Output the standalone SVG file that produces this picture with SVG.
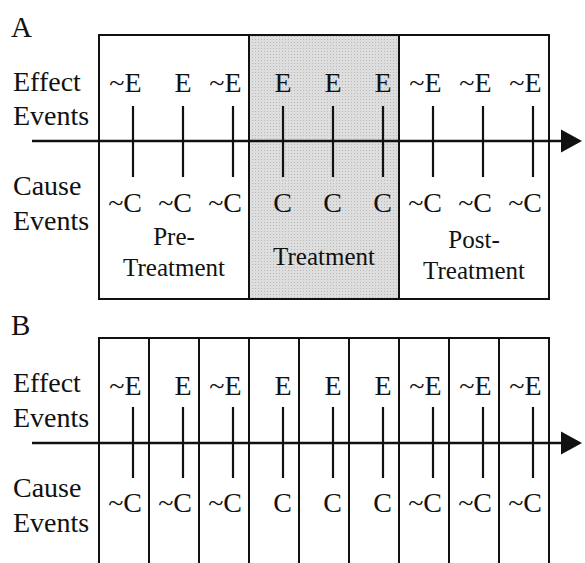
<svg xmlns="http://www.w3.org/2000/svg" width="585" height="563" viewBox="0 0 585 563">
<defs>
<style>
text{font-family:"Liberation Serif","Times New Roman",serif;fill:#111;}
.lbl{font-size:28px;}
.ev{font-size:28px;text-anchor:end;}
.cap{font-size:25px;text-anchor:middle;}
.big{font-size:29px;}
.box{fill:none;stroke:#111;stroke-width:2;}
.tick{stroke:#111;stroke-width:2.2;}
.axis{stroke:#111;stroke-width:2.5;}
</style>
<pattern id="dots" width="3" height="3" patternUnits="userSpaceOnUse">
<rect width="3" height="3" fill="#dedede"/>
<rect width="1" height="1" fill="#b8b8b8"/>
</pattern>
</defs>
<rect width="585" height="563" fill="#fff"/>

<g id="panelA">
<text class="big" x="11" y="37">A</text>
<rect x="249" y="35" width="150" height="264" fill="url(#dots)"/>
<rect class="box" x="99" y="35" width="450" height="264"/>
<line class="box" x1="249" y1="35" x2="249" y2="299"/>
<line class="box" x1="399" y1="35" x2="399" y2="299"/>
<text class="lbl" x="13" y="91">Effect</text>
<text class="lbl" x="13" y="125">Events</text>
<text class="lbl" x="13" y="195">Cause</text>
<text class="lbl" x="13" y="230">Events</text>
<text class="cap" x="174" y="245">Pre-</text>
<text class="cap" x="174" y="276">Treatment</text>
<text class="cap" x="324" y="265">Treatment</text>
<text class="cap" x="474" y="248">Post-</text>
<text class="cap" x="474" y="279">Treatment</text>
</g>

<g id="eventsA">
<g class="tick">
<line x1="133" y1="106" x2="133" y2="177"/><line x1="183" y1="106" x2="183" y2="177"/><line x1="233" y1="106" x2="233" y2="177"/>
<line x1="283" y1="106" x2="283" y2="177"/><line x1="333" y1="106" x2="333" y2="177"/><line x1="383" y1="106" x2="383" y2="177"/>
<line x1="433" y1="106" x2="433" y2="177"/><line x1="483" y1="106" x2="483" y2="177"/><line x1="533" y1="106" x2="533" y2="177"/>
</g>
<text class="ev" x="141.5" y="92">~E</text><text class="ev" x="191.5" y="92">E</text><text class="ev" x="241.5" y="92">~E</text>
<text class="ev" x="291.5" y="92">E</text><text class="ev" x="341.5" y="92">E</text><text class="ev" x="391.5" y="92">E</text>
<text class="ev" x="441.5" y="92">~E</text><text class="ev" x="491.5" y="92">~E</text><text class="ev" x="541.5" y="92">~E</text>
<text class="ev" x="142" y="212">~C</text><text class="ev" x="192" y="212">~C</text><text class="ev" x="242" y="212">~C</text>
<text class="ev" x="292" y="212">C</text><text class="ev" x="342" y="212">C</text><text class="ev" x="392" y="212">C</text>
<text class="ev" x="442" y="212">~C</text><text class="ev" x="492" y="212">~C</text><text class="ev" x="542" y="212">~C</text>
</g>

<g id="panelB">
<text class="big" x="11" y="335">B</text>
<path class="box" d="M99,563V338H549V563"/>
<g class="box">
<line x1="149" y1="338" x2="149" y2="563"/><line x1="199" y1="338" x2="199" y2="563"/><line x1="249" y1="338" x2="249" y2="563"/>
<line x1="299" y1="338" x2="299" y2="563"/><line x1="349" y1="338" x2="349" y2="563"/><line x1="399" y1="338" x2="399" y2="563"/>
<line x1="449" y1="338" x2="449" y2="563"/><line x1="499" y1="338" x2="499" y2="563"/>
</g>
<text class="lbl" x="13" y="392">Effect</text>
<text class="lbl" x="13" y="427">Events</text>
<text class="lbl" x="13" y="497">Cause</text>
<text class="lbl" x="13" y="532">Events</text>
</g>

<g id="eventsB">
<g class="tick">
<line x1="133" y1="407" x2="133" y2="478"/><line x1="183" y1="407" x2="183" y2="478"/><line x1="233" y1="407" x2="233" y2="478"/>
<line x1="283" y1="407" x2="283" y2="478"/><line x1="333" y1="407" x2="333" y2="478"/><line x1="383" y1="407" x2="383" y2="478"/>
<line x1="433" y1="407" x2="433" y2="478"/><line x1="483" y1="407" x2="483" y2="478"/><line x1="533" y1="407" x2="533" y2="478"/>
</g>
<text class="ev" x="141.5" y="395">~E</text><text class="ev" x="191.5" y="395">E</text><text class="ev" x="241.5" y="395">~E</text>
<text class="ev" x="291.5" y="395">E</text><text class="ev" x="341.5" y="395">E</text><text class="ev" x="391.5" y="395">E</text>
<text class="ev" x="441.5" y="395">~E</text><text class="ev" x="491.5" y="395">~E</text><text class="ev" x="541.5" y="395">~E</text>
<text class="ev" x="142" y="512">~C</text><text class="ev" x="192" y="512">~C</text><text class="ev" x="242" y="512">~C</text>
<text class="ev" x="292" y="512">C</text><text class="ev" x="342" y="512">C</text><text class="ev" x="392" y="512">C</text>
<text class="ev" x="442" y="512">~C</text><text class="ev" x="492" y="512">~C</text><text class="ev" x="542" y="512">~C</text>
</g>

<g id="connectors">
<line class="axis" x1="32" y1="141" x2="563" y2="141"/>
<polygon points="561,129.5 582,141 561,152.5" fill="#111"/>
<line class="axis" x1="32" y1="443" x2="563" y2="443"/>
<polygon points="561,431.5 582,443 561,454.5" fill="#111"/>
</g>
</svg>
